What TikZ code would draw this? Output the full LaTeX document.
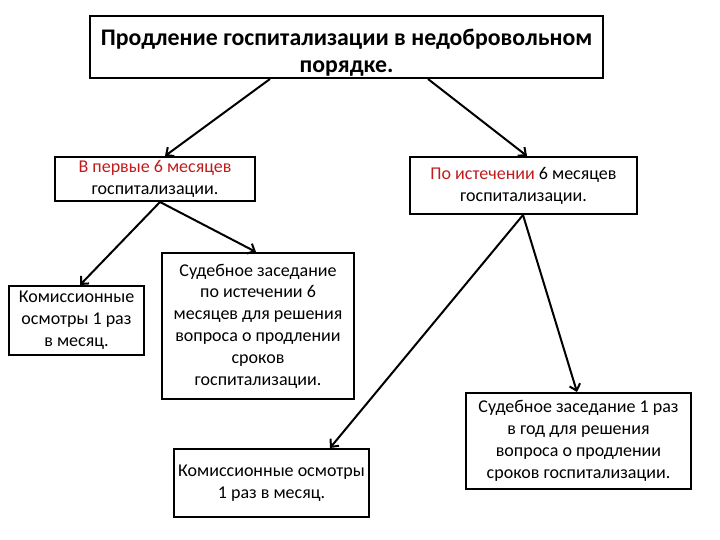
\documentclass[tikz,border=0pt]{standalone}
\usepackage{fontspec}
\setmainfont{Carlito}
\usepackage{xcolor}
\usetikzlibrary{arrows.meta}
\definecolor{redtext}{RGB}{192,28,28}

\tikzset{
    box/.style={draw, line width=2pt, align=center, inner sep=0pt,
        font=\fontsize{18}{21.8}\selectfont},
    link/.style={line width=2pt, -{Straight Barb[length=6pt,width=11pt]}}
}

\begin{document}
\begin{tikzpicture}[x=1pt,y=-1pt]
    \useasboundingbox (0,0) rectangle (720,540);

    \node[box, minimum width=513pt, minimum height=62pt, font=\fontsize{23.8}{27}\selectfont\bfseries] (title) at (346.5,47)
        {\rule{0pt}{27pt}Продление госпитализации в недобровольном\\порядке.};
    \node[box, minimum width=200pt, minimum height=44pt] (first) at (155,179)
        {\textcolor{redtext}{В первые 6 месяцев}\\госпитализации.};
    \node[box, minimum width=227pt, minimum height=57pt] (after) at (523.5,185.5)
        {\textcolor{redtext}{По истечении} 6 месяцев\\госпитализации.};
    \node[box, minimum width=135pt, minimum height=69pt] (exam1) at (76.5,320.5)
        {Комиссионные\\осмотры 1 раз\\в месяц.};
    \node[box, minimum width=192pt, minimum height=146pt] (court1) at (258,326)
        {Судебное заседание\\по истечении 6\\месяцев для решения\\вопроса о продлении\\сроков\\госпитализации.};
    \node[box, minimum width=225pt, minimum height=96pt] (court2) at (578.5,441)
        {Судебное заседание 1 раз\\в год для решения\\вопроса о продлении\\сроков госпитализации.};
    \node[box, minimum width=195pt, minimum height=68pt] (exam2) at (271.5,483)
        {Комиссионные осмотры\\1 раз в месяц.};

    % connectors
    \draw[link] (title.south -| 270,0) -- (first.north -| 165,0);
    \draw[link] (title.south -| 428,0) -- (after.north -| 527,0);
    \draw[link] (first.south -| 160,0) -- (exam1.north -| 80,0);
    \draw[link] (first.south -| 160,0) -- (court1.north -| 256,0);
    \draw[link] (after.south -| 523,0) -- (exam2.north -| 330,0);
    \draw[link] (after.south -| 523,0) -- (court2.north -| 577,0);
\end{tikzpicture}
\end{document}
